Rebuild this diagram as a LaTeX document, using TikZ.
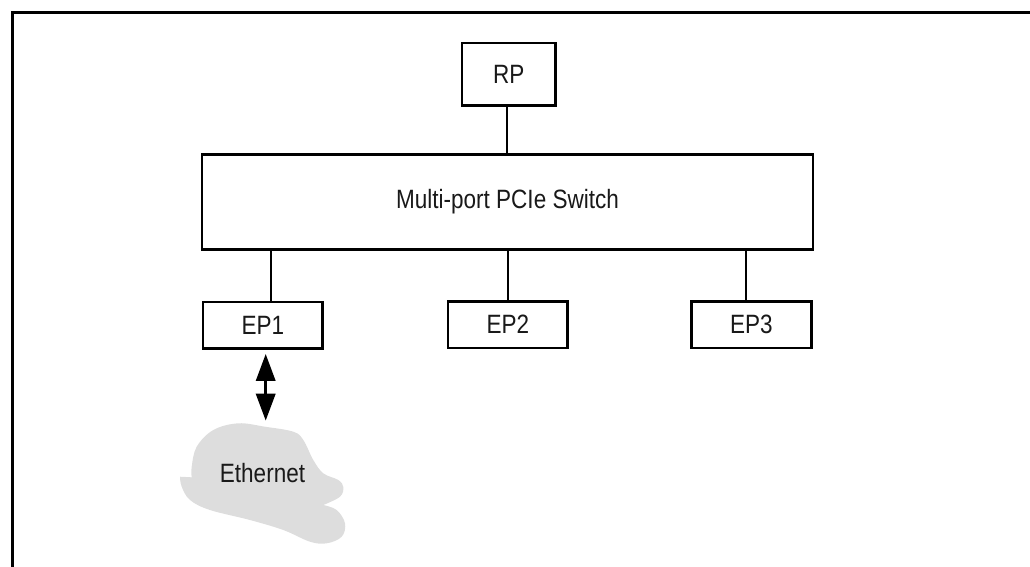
\documentclass[tikz,border=0pt]{standalone}
\usepackage{fontspec}
\setmainfont{Liberation Sans}[FakeStretch=0.85]
\usetikzlibrary{arrows.meta}
\definecolor{cloudgray}{RGB}{221,221,221}
\tikzset{
  boxnode/.style={draw, line width=2.5pt, inner sep=0pt, font=\fontsize{26.5}{30}\selectfont, text=black!90},
  link/.style={line width=2pt},
  bidir/.style={line width=3.5pt, {Triangle[width=19pt,length=27pt]}-{Triangle[width=19pt,length=27pt]}},
  frameline/.style={line width=3pt}
}
\begin{document}
\begin{tikzpicture}[x=1pt,y=-1pt]
\useasboundingbox (0,0) rectangle (1030,566);
% open frame
\draw[frameline] (12.5,570) -- (12.5,12.5) -- (1034,12.5);
% nodes
\node[boxnode, minimum width=93.5pt, minimum height=62.5pt] (RP) at (508.7,74.2) {RP};
\node[boxnode, minimum width=611pt, minimum height=95pt] (sw) at (507.5,202) {Multi-port PCIe Switch};
\node[boxnode, minimum width=119.7pt, minimum height=46.7pt] (EP1) at (262.8,325.3) {EP1};
\node[boxnode, minimum width=119.7pt, minimum height=46.7pt] (EP2) at (507.8,324.7) {EP2};
\node[boxnode, minimum width=120pt, minimum height=46.7pt] (EP3) at (751.3,324.7) {EP3};
% connectors
\draw[link] ([xshift=-1.5pt]RP.south) -- ([xshift=-1.5pt]RP.south |- sw.north);
\draw[link] ([xshift=8pt]EP1.north) -- ([xshift=8pt]EP1.north |- sw.south);
\draw[link] (EP2.north) -- (EP2.north |- sw.south);
\draw[link] ([xshift=-5.3pt]EP3.north) -- ([xshift=-5.3pt]EP3.north |- sw.south);
% ethernet cloud
\fill[cloudgray] (180,476.7) -- (191.7,477.3)
  -- plot[smooth, tension=0.6] coordinates {(191.7,477.3) (191.7,466.7) (196.7,446.7) (213.3,430) (238.3,423.3) (265,426.7) (293.3,431.7) (303.3,440) (313.3,460) (323.3,473.3) (338.3,480) (343.3,487) (340,496.7) (323.3,505)}
  -- plot[smooth, tension=0.6] coordinates {(323.3,505) (336.7,510) (345,523.3) (341.7,536.7) (326.7,543.3) (310,541.7) (283.3,530) (250,520) (210,510) (190,500) (181.7,486.7) (180,476.7)}
  -- cycle;
\node[font=\fontsize{26.5}{30}\selectfont, text=black!90, inner sep=0pt] (eth) at (262.5,473) {Ethernet};
\coordinate (ethtop) at (265.7,420.7);
\draw[bidir] ([xshift=2.9pt,yshift=-4pt]EP1.south) -- (ethtop);
\end{tikzpicture}
\end{document}
